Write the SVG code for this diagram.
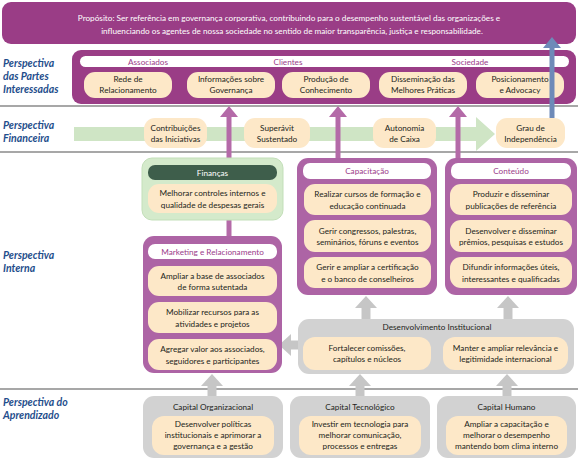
<svg xmlns="http://www.w3.org/2000/svg" width="578" height="459" viewBox="0 0 578 459">
<defs>
<style>
text{font-family:Lato,"Open Sans","Liberation Sans",sans-serif;font-size:8.2px;fill:#231f20;text-anchor:middle}
.persp{font-weight:bold;font-style:italic;font-size:10.5px;fill:#1f4e8c;text-anchor:start}
.white{fill:#ffffff}
.ptitle{fill:#9b3d8a}
.sep{stroke:#8a8a8a;stroke-width:1.5}
.pill{fill:#fde8c8}
.band{fill:#ffffff}
.pbox{fill:#ad64a5}
.gbox{fill:#d2d2d2}
.pink{stroke:#b46aa8;stroke-width:5;fill:none}
.blue{stroke:#6e8ab8;stroke-width:5;fill:none}
.gray{stroke:#c6c6c6;stroke-width:9;fill:none}
</style>
<marker id="pinkHead" markerUnits="userSpaceOnUse" markerWidth="11" markerHeight="18" refX="0" refY="9" orient="auto"><path d="M0,0 L11,9 L0,18 z" fill="#b46aa8"/></marker>
<marker id="blueHead" markerUnits="userSpaceOnUse" markerWidth="11" markerHeight="18" refX="0" refY="9" orient="auto"><path d="M0,0 L11,9 L0,18 z" fill="#6e8ab8"/></marker>
<marker id="grayHead" markerUnits="userSpaceOnUse" markerWidth="12" markerHeight="22" refX="0" refY="11" orient="auto"><path d="M0,0 L12,11 L0,22 z" fill="#c6c6c6"/></marker>
</defs>

<g id="separators">
<line class="sep" x1="0" y1="106" x2="578" y2="106"/>
<line class="sep" x1="0" y1="152" x2="578" y2="152"/>
<line class="sep" x1="0" y1="389" x2="578" y2="389"/>
</g>

<g id="perspectives">
<text class="persp" x="3" y="67">Perspectiva</text>
<text class="persp" x="3" y="80">das Partes</text>
<text class="persp" x="3" y="93">Interessadas</text>
<text class="persp" x="3" y="129">Perspectiva</text>
<text class="persp" x="3" y="142">Financeira</text>
<text class="persp" x="3" y="259">Perspectiva</text>
<text class="persp" x="3" y="272">Interna</text>
<text class="persp" x="3" y="406">Perspectiva do</text>
<text class="persp" x="3" y="419">Aprendizado</text>
</g>

<g id="proposito">
<rect x="2" y="2" width="574" height="42" rx="9" fill="#9a3d86"/>
<text class="white" x="289" y="21">Propósito: Ser referência em governança corporativa, contribuindo para o desempenho sustentável das organizações e</text>
<text class="white" x="292" y="34">influenciando os agentes de nossa sociedade no sentido de maior transparência, justiça e responsabilidade.</text>
</g>

<g id="partes-interessadas">
<rect x="72" y="50" width="504" height="54" rx="9" fill="#9a3d86"/>
<rect class="band" x="80" y="56" width="489" height="11" rx="5.5"/>
<text class="ptitle" x="148" y="64.5">Associados</text>
<text class="ptitle" x="288" y="64.5">Clientes</text>
<text class="ptitle" x="470" y="64.5">Sociedade</text>
</g>
<g id="rede"><rect class="pill" x="84" y="72" width="88" height="26" rx="11"/><text x="128" y="81.5">Rede de</text><text x="128" y="92.5">Relacionamento</text></g>
<g id="informacoes"><rect class="pill" x="187" y="72" width="88" height="26" rx="11"/><text x="231" y="81.5">Informações sobre</text><text x="231" y="92.5">Governança</text></g>
<g id="producao"><rect class="pill" x="282" y="72" width="88" height="26" rx="11"/><text x="326" y="81.5">Produção de</text><text x="326" y="92.5">Conhecimento</text></g>
<g id="disseminacao"><rect class="pill" x="379" y="72" width="88" height="26" rx="11"/><text x="423" y="81.5">Disseminação das</text><text x="423" y="92.5">Melhores Práticas</text></g>
<g id="posicionamento"><rect class="pill" x="476" y="72" width="88" height="26" rx="11"/><text x="520" y="81.5">Posicionamento</text><text x="520" y="92.5">e Advocacy</text></g>

<g id="fluxo-financeiro">
<path d="M74,127 L476,127 L476,117 L495,134 L476,151 L476,141 L74,141 z" fill="#cfe5c5"/>
</g>
<g id="contribuicoes"><rect class="pill" x="144" y="118" width="63" height="30" rx="11"/><text x="175.5" y="130.5">Contribuições</text><text x="175.5" y="142">das Iniciativas</text></g>
<g id="superavit"><rect class="pill" x="244" y="118" width="66" height="30" rx="11"/><text x="277" y="130.5">Superávit</text><text x="277" y="142">Sustentado</text></g>
<g id="autonomia"><rect class="pill" x="373" y="118" width="63" height="30" rx="11"/><text x="404.5" y="130.5">Autonomia</text><text x="404.5" y="142">de Caixa</text></g>
<g id="grau"><rect class="pill" x="496" y="118" width="69" height="30" rx="11"/><text x="530.5" y="130.5">Grau de</text><text x="530.5" y="142">Independência</text></g>

<g id="connectors">
<line class="pink" x1="229" y1="240" x2="229" y2="117" marker-end="url(#pinkHead)"/>
<line class="pink" x1="338" y1="160" x2="338" y2="117" marker-end="url(#pinkHead)"/>
<line class="pink" x1="458" y1="160" x2="458" y2="117" marker-end="url(#pinkHead)"/>
<line class="blue" x1="552" y1="118" x2="552" y2="48" marker-end="url(#blueHead)"/>
<line class="gray" x1="366" y1="320" x2="366" y2="308" marker-end="url(#grayHead)"/>
<line class="gray" x1="508" y1="320" x2="508" y2="308" marker-end="url(#grayHead)"/>
<line class="gray" x1="299" y1="345" x2="291" y2="345" marker-end="url(#grayHead)"/>
<line class="gray" x1="212" y1="398" x2="212" y2="386" marker-end="url(#grayHead)"/>
<line class="gray" x1="360" y1="398" x2="360" y2="386" marker-end="url(#grayHead)"/>
<line class="gray" x1="507" y1="398" x2="507" y2="386" marker-end="url(#grayHead)"/>
</g>

<g id="financas">
<rect x="142" y="158" width="141" height="62" rx="10" fill="#d4eacb" stroke="#c3dfb9" stroke-width="1"/>
<rect x="148" y="165" width="129" height="15" rx="7" fill="#3e5e4b"/>
<text class="white" x="212.5" y="175.5">Finanças</text>
<rect class="pill" x="148" y="184" width="129" height="29" rx="11"/>
<text x="212.5" y="196">Melhorar controles internos e</text>
<text x="212.5" y="207.5">qualidade de despesas gerais</text>
</g>

<g id="marketing">
<rect class="pbox" x="143" y="236" width="139" height="137" rx="11"/>
<rect class="band" x="148" y="244" width="129" height="15" rx="7"/>
<text class="ptitle" x="212.5" y="254.5">Marketing e Relacionamento</text>
<rect class="pill" x="148" y="266" width="129" height="30" rx="11"/>
<text x="212.5" y="278.5">Ampliar a base de associados</text>
<text x="212.5" y="290">de forma sutentada</text>
<rect class="pill" x="148" y="302" width="129" height="31" rx="11"/>
<text x="212.5" y="315">Mobilizar recursos para as</text>
<text x="212.5" y="326.5">atividades e projetos</text>
<rect class="pill" x="148" y="339" width="129" height="31" rx="11"/>
<text x="212.5" y="352">Agregar valor aos associados,</text>
<text x="212.5" y="363.5">seguidores e participantes</text>
</g>

<g id="capacitacao">
<rect class="pbox" x="297" y="158" width="140" height="137" rx="11"/>
<rect class="band" x="303" y="163" width="128" height="16" rx="7"/>
<text class="ptitle" x="367" y="174">Capacitação</text>
<rect class="pill" x="304" y="184" width="127" height="31" rx="11"/>
<text x="367.5" y="197">Realizar cursos de formação e</text>
<text x="367.5" y="208.5">educação continuada</text>
<rect class="pill" x="304" y="220" width="127" height="32" rx="11"/>
<text x="367.5" y="233.5">Gerir congressos, palestras,</text>
<text x="367.5" y="245">seminários, fóruns e eventos</text>
<rect class="pill" x="304" y="257" width="127" height="31" rx="11"/>
<text x="367.5" y="270">Gerir e ampliar a certificação</text>
<text x="367.5" y="281.5">e o banco de conselheiros</text>
</g>

<g id="conteudo">
<rect class="pbox" x="445" y="158" width="132" height="137" rx="11"/>
<rect class="band" x="451" y="163" width="120" height="16" rx="7"/>
<text class="ptitle" x="511" y="174">Conteúdo</text>
<rect class="pill" x="450" y="184" width="122" height="31" rx="11"/>
<text x="511" y="197">Produzir e disseminar</text>
<text x="511" y="208.5">publicações de referência</text>
<rect class="pill" x="450" y="220" width="122" height="32" rx="11"/>
<text x="511" y="233.5">Desenvolver e disseminar</text>
<text x="511" y="245">prêmios, pesquisas e estudos</text>
<rect class="pill" x="450" y="257" width="122" height="31" rx="11"/>
<text x="511" y="270">Difundir informações úteis,</text>
<text x="511" y="281.5">interessantes e qualificadas</text>
</g>

<g id="desenvolvimento">
<rect class="gbox" x="298" y="319" width="276" height="55" rx="11"/>
<text x="437" y="330">Desenvolvimento Institucional</text>
<rect class="pill" x="303" y="337" width="128" height="33" rx="12"/>
<text x="367" y="350.5">Fortalecer comissões,</text>
<text x="367" y="362">capítulos e núcleos</text>
<rect class="pill" x="443" y="337" width="125" height="33" rx="12"/>
<text x="505.5" y="350.5">Manter e ampliar relevância e</text>
<text x="505.5" y="362">legitimidade internacional</text>
</g>

<g id="capital-organizacional">
<rect class="gbox" x="143" y="396" width="140" height="62" rx="11"/>
<text x="213" y="410">Capital Organizacional</text>
<rect class="pill" x="152" y="416" width="122" height="39" rx="12"/>
<text x="213" y="427">Desenvolver políticas</text>
<text x="213" y="438">institucionais e aprimorar a</text>
<text x="213" y="449">governança e a gestão</text>
</g>
<g id="capital-tecnologico">
<rect class="gbox" x="290" y="396" width="140" height="62" rx="11"/>
<text x="360" y="410">Capital Tecnológico</text>
<rect class="pill" x="299" y="416" width="122" height="39" rx="12"/>
<text x="360" y="427">Investir em tecnologia para</text>
<text x="360" y="438">melhorar comunicação,</text>
<text x="360" y="449">processos e entregas</text>
</g>
<g id="capital-humano">
<rect class="gbox" x="437" y="396" width="139" height="62" rx="11"/>
<text x="506.5" y="410">Capital Humano</text>
<rect class="pill" x="446" y="416" width="121" height="39" rx="12"/>
<text x="506.5" y="427">Ampliar a capacitação e</text>
<text x="506.5" y="438">melhorar o desempenho</text>
<text x="506.5" y="449">mantendo bom clima interno</text>
</g>
</svg>
